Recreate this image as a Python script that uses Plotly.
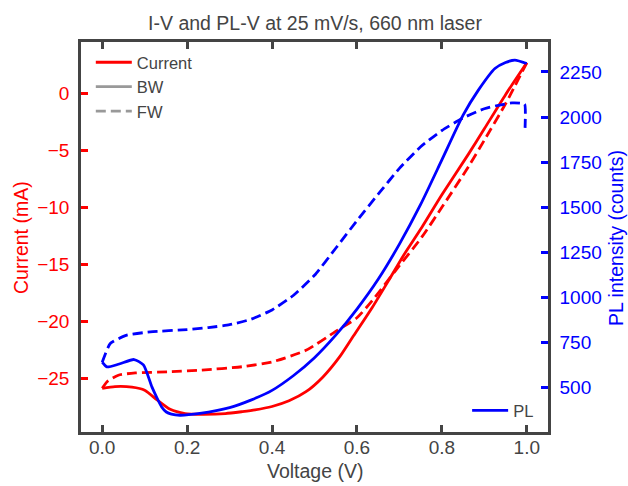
import plotly.graph_objects as go

# Current, backward scan (solid)
v_i_bw = [0.0, 0.03, 0.07, 0.10, 0.13, 0.16, 0.195, 0.235, 0.29, 0.33, 0.36, 0.40, 0.44, 0.48,
          0.52, 0.56, 0.59, 0.636, 0.675, 0.71, 0.753, 0.80, 0.863, 0.90, 0.95, 1.0]
i_bw = [-25.9, -25.75, -25.8, -26.07, -26.95, -27.75, -28.12, -28.18, -28.12, -27.95, -27.8, -27.5,
        -27.0, -26.2, -24.9, -23.1, -21.4, -18.8, -16.4, -14.2, -11.75, -8.9, -5.3, -3.1, -0.1, 2.7]

# Current, forward scan (dashed)
v_i_fw = [0.0, 0.012, 0.038, 0.078, 0.155, 0.234, 0.33, 0.40, 0.48, 0.55, 0.60, 0.636, 0.69,
          0.753, 0.80, 0.863, 0.90, 0.95, 1.0]
i_fw = [-25.9, -25.3, -24.75, -24.55, -24.45, -24.3, -24.0, -23.58, -22.56, -20.9, -19.7, -18.2,
        -15.6, -12.6, -10.0, -6.4, -4.1, -0.9, 2.7]

# PL, backward scan (solid)
v_pl_bw = [0.0, 0.011, 0.04, 0.075, 0.097, 0.117, 0.128, 0.14, 0.151, 0.163, 0.183, 0.23, 0.30,
           0.35, 0.40, 0.45, 0.50, 0.55, 0.60, 0.65, 0.70, 0.75, 0.80, 0.85, 0.886, 0.925, 0.95,
           0.972, 1.0]
pl_bw = [640, 614, 630, 655, 625, 503, 447, 392, 364, 352, 346, 356, 388, 430, 484, 565, 665, 790,
         935, 1100, 1295, 1515, 1762, 2010, 2149, 2269, 2302, 2316, 2297]

# PL, forward scan (dashed)
v_pl_fw = [0.0, 0.019, 0.058, 0.113, 0.20, 0.25, 0.30, 0.35, 0.40, 0.45, 0.50, 0.55, 0.60, 0.65,
           0.70, 0.75, 0.80, 0.85, 0.90, 0.933, 0.965, 0.985, 0.995, 0.996]
pl_fw = [640, 744, 790, 808, 821, 832, 848, 878, 930, 1010, 1122, 1272, 1425, 1572, 1715, 1835,
         1925, 1995, 2046, 2065, 2078, 2077, 2072, 1940]

x_ticks = [0.0, 0.2, 0.4, 0.6, 0.8, 1.0]
y_ticks = [0, -5, -10, -15, -20, -25]
y2_ticks = [250, 500, 750, 1000, 1250, 1500, 1750, 2000, 2250]

RED = "#ff0000"
BLUE = "#0000ff"
DARK = "#444444"
GRAY = "#999999"
LW = 2.8
DASH = "10px,5px"
FONT = "Liberation Sans, Arial, sans-serif"
W, H = 628, 486
ML, MR, MT, MB = 81, 80, 42, 54

fig = go.Figure()

fig.add_trace(go.Scatter(x=v_i_bw, y=i_bw, mode="lines", line=dict(color=RED, width=LW, shape="spline", smoothing=0.6),
                         showlegend=False, yaxis="y"))
fig.add_trace(go.Scatter(x=v_i_fw, y=i_fw, mode="lines", line=dict(color=RED, width=LW, dash=DASH, shape="spline", smoothing=0.6),
                         showlegend=False, yaxis="y"))
fig.add_trace(go.Scatter(x=v_pl_bw, y=pl_bw, mode="lines", line=dict(color=BLUE, width=LW, shape="spline", smoothing=0.6),
                         showlegend=False, yaxis="y2"))
fig.add_trace(go.Scatter(x=v_pl_fw, y=pl_fw, mode="lines", line=dict(color=BLUE, width=LW, dash=DASH, shape="spline", smoothing=0.5),
                         showlegend=False, yaxis="y2"))

# legend entries
fig.add_trace(go.Scatter(x=[None], y=[None], mode="lines", name="Current", line=dict(color=RED, width=LW), legend="legend"))
fig.add_trace(go.Scatter(x=[None], y=[None], mode="lines", name="BW", line=dict(color=GRAY, width=LW), legend="legend"))
fig.add_trace(go.Scatter(x=[None], y=[None], mode="lines", name="FW", line=dict(color=GRAY, width=LW, dash=DASH), legend="legend"))
fig.add_trace(go.Scatter(x=[None], y=[None], mode="lines", name="PL", line=dict(color=BLUE, width=LW), legend="legend2", yaxis="y2"))

pw = W - ML - MR
ph = H - MT - MB

def px_x(px):
    return (px - ML) / pw

def px_y(py):
    return (H - MB - py) / ph

annotations = [
    dict(text="Voltage (V)", xref="paper", yref="paper", x=px_x(315), y=px_y(471), xanchor="center", yanchor="middle",
         showarrow=False, font=dict(size=19.5, color=DARK)),
    dict(text="Current (mA)", xref="paper", yref="paper", x=px_x(21), y=px_y(238), xanchor="center", yanchor="middle",
         textangle=-90, showarrow=False, font=dict(size=19.5, color=RED)),
    dict(text="PL intensity (counts)", xref="paper", yref="paper", x=px_x(616), y=px_y(238), xanchor="center",
         yanchor="middle", textangle=-90, showarrow=False, font=dict(size=19.5, color=BLUE)),
]

fig.update_layout(
    width=W, height=H,
    margin=dict(l=ML, r=MR, t=MT, b=MB, autoexpand=False),
    paper_bgcolor="white", plot_bgcolor="white",
    font=dict(family=FONT, size=19, color=DARK),
    title=dict(text="I-V and PL-V at 25 mV/s, 660 nm laser", x=px_x(315), xref="paper", xanchor="center",
               y=1 - 23 / H, yref="container", yanchor="middle", font=dict(size=19.5, color=DARK)),
    xaxis=dict(range=[-0.05, 1.05], tickvals=x_ticks, tickformat=".1f", ticks="inside", ticklen=7, tickwidth=2.5,
               tickcolor=DARK, showline=True, linewidth=2.5, linecolor=DARK, mirror="ticks", showgrid=False,
               zeroline=False, tickfont=dict(size=19, color=DARK), ticklabelstandoff=-4, automargin=False),
    yaxis=dict(range=[-29.74, 4.53], tickvals=y_ticks, ticks="inside", ticklen=7, tickwidth=2.5, tickcolor=RED,
               showline=True, linewidth=2.5, linecolor=DARK, showgrid=False, zeroline=False,
               tickfont=dict(size=19, color=RED), ticklabelstandoff=5, automargin=False),
    yaxis2=dict(range=[253, 2416], tickvals=y2_ticks, overlaying="y", side="right", ticks="inside", ticklen=7,
                tickwidth=2.5, tickcolor=BLUE, showline=True, linewidth=2.5, linecolor=DARK, showgrid=False,
                zeroline=False, tickfont=dict(size=19, color=BLUE), ticklabelstandoff=5, automargin=False),
    legend=dict(x=0.021, y=1.0 - 3 / 390, xanchor="left", yanchor="top", bgcolor="rgba(0,0,0,0)",
                font=dict(size=16.5, color=DARK), tracegroupgap=0, itemwidth=36),
    legend2=dict(x=0.981, y=0.01, xanchor="right", yanchor="bottom", bgcolor="rgba(0,0,0,0)",
                 font=dict(size=16.5, color=DARK), itemwidth=36),
    annotations=annotations,
)

fig.write_html("out.html", config={"displayModeBar": False},
               post_script="document.body.style.margin='0px';")
